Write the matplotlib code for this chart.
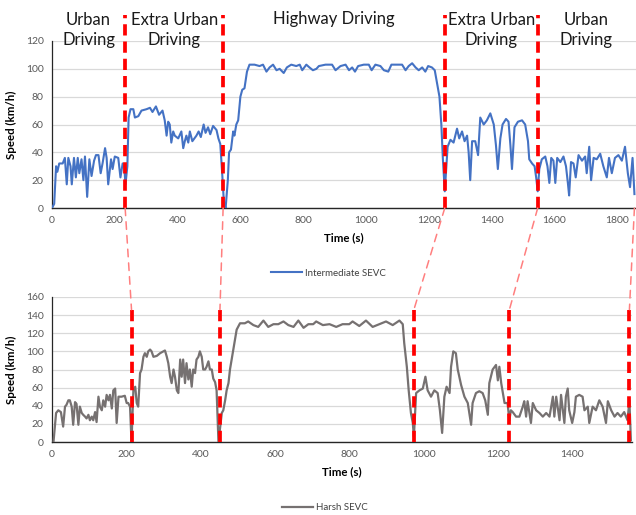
import matplotlib
matplotlib.use("Agg")
import matplotlib.pyplot as plt
from matplotlib.patches import ConnectionPatch

plt.rcParams['font.family'] = ['Lato', 'DejaVu Sans']

# ---- Intermediate SEVC drive cycle (time s, speed km/h) ----
inter_t = [0, 7, 13, 17, 23, 34, 41, 47, 52, 59, 63, 70, 76, 82, 87, 94, 100, 105, 112, 119,
           126, 134, 140, 148, 155, 161, 169, 174, 179, 188, 193, 200, 211, 218, 225, 230, 234, 240,
           244, 250, 259, 264, 275, 285, 301, 312, 320, 331, 341, 352, 359, 365, 370, 375, 380, 386,
           391, 402, 412, 418, 423, 428, 434, 439, 447, 460, 467, 474, 483, 489, 497, 504, 513, 524,
           530, 536, 542, 548, 553, 560, 564, 570, 577, 581, 587, 593, 600, 606, 613, 621, 629, 645,
           661, 672, 683, 693, 704, 715, 725, 738, 748, 762, 778, 789, 797, 810, 820, 831, 842, 850,
           871, 892, 903, 919, 935, 946, 956, 965, 975, 993, 1009, 1018, 1030, 1046, 1057, 1071, 1081,
           1099, 1115, 1126, 1136, 1147, 1158, 1168, 1179, 1189, 1198, 1210, 1219, 1226, 1234, 1240,
           1245, 1251, 1256, 1260, 1269, 1279, 1290, 1297, 1306, 1314, 1322, 1327, 1332, 1338, 1348,
           1357, 1364, 1375, 1385, 1396, 1407, 1414, 1420, 1428, 1435, 1446, 1454, 1460, 1465, 1473,
           1484, 1497, 1507, 1516, 1520, 1529, 1537, 1542, 1547, 1552, 1560, 1571, 1578, 1584, 1590,
           1597, 1603, 1609, 1619, 1629, 1637, 1643, 1647, 1653, 1661, 1668, 1677, 1688, 1698, 1703,
           1711, 1717, 1725, 1735, 1746, 1756, 1767, 1774, 1783, 1793, 1804, 1815, 1825, 1834, 1841,
           1849, 1855]
inter_v = [0, 3, 30, 26, 32, 32, 36, 17, 36, 30, 17, 36, 22, 36, 25, 35, 20, 37, 8, 35,
           23, 34, 38, 38, 25, 32, 43, 36, 17, 35, 28, 37, 36, 22, 32, 30, 17, 30,
           65, 71, 71, 65, 66, 70, 71, 72, 69, 73, 67, 70, 63, 52, 62, 60, 47, 55,
           52, 50, 55, 43, 48, 52, 47, 55, 48, 52, 55, 51, 60, 54, 58, 53, 59, 56,
           50, 46, 25, 2, 0, 20, 40, 42, 55, 52, 60, 63, 80, 85, 86, 98, 103, 103,
           102, 103, 98, 101, 103, 99, 100, 97, 101, 103, 102, 103, 99, 103, 101, 99, 100, 102,
           103, 103, 99, 102, 103, 99, 101, 98, 102, 103, 103, 99, 103, 102, 99, 98, 103,
           103, 103, 99, 102, 104, 101, 99, 101, 98, 102, 101, 99, 90, 80, 60,
           35, 12, 30, 44, 49, 47, 57, 50, 55, 48, 52, 40, 20, 48, 48,
           38, 65, 60, 63, 68, 60, 45, 28, 50, 60, 64, 62, 45, 28, 58,
           62, 63, 60, 48, 35, 32, 30, 22, 12, 28, 35, 37, 30, 18, 36,
           34, 18, 36, 33, 37, 30, 18, 9, 33, 32, 22, 38, 34, 37, 25,
           44, 20, 36, 35, 39, 30, 22, 36, 25, 36, 38, 34, 44, 25, 15,
           36, 10]

# ---- Harsh SEVC drive cycle (time s, speed km/h) ----
harsh_t = [4, 11, 17, 24, 30, 35, 39, 44, 48, 53, 57, 62, 66, 71, 75, 80, 84, 89, 93, 98,
           102, 107, 111, 116, 120, 125, 129, 134, 138, 143, 147, 152, 156, 161, 165, 170, 174, 179,
           187, 196, 201, 205, 210, 214, 219, 224, 228, 232, 237, 241, 246, 250, 255, 259, 264, 268,
           273, 282, 291, 300, 304, 309, 313, 318, 322, 327, 331, 336, 340, 345, 349, 353, 358, 362,
           367, 371, 376, 380, 385, 389, 394, 398, 403, 407, 412, 416, 421, 425, 430, 434, 439, 443,
           448, 457, 461, 466, 470, 475, 479, 488, 497, 506, 519, 528, 542, 555, 569, 582, 596, 609,
           623, 636, 650, 663, 677, 690, 703, 711, 729, 747, 765, 782, 800, 809, 827, 845, 863, 881,
           899, 917, 935, 944, 948, 955, 960, 966, 971, 974, 980, 989, 998, 1005, 1011, 1020, 1029,
           1038, 1044, 1050, 1056, 1062, 1070, 1074, 1080, 1087, 1092, 1101, 1110, 1119, 1128, 1132,
           1141, 1150, 1159, 1166, 1173, 1177, 1186, 1195, 1200, 1204, 1209, 1218, 1226, 1231, 1235,
           1240, 1249, 1258, 1267, 1271, 1276, 1280, 1289, 1294, 1303, 1312, 1321, 1330, 1339, 1348,
           1352, 1357, 1366, 1370, 1379, 1383, 1388, 1392, 1400, 1406, 1410, 1419, 1428, 1433, 1442,
           1446, 1455, 1464, 1473, 1482, 1491, 1496, 1505, 1514, 1522, 1531, 1540, 1549, 1554, 1558]
harsh_v = [0, 32, 35, 33, 17, 39, 41, 46, 46, 39, 19, 44, 42, 19, 39, 32, 30, 28, 26, 30,
           24, 28, 24, 33, 22, 50, 39, 35, 46, 39, 52, 46, 52, 37, 57, 59, 21, 50,
           50, 51, 43, 43, 39, 0, 57, 61, 43, 39, 76, 80, 94, 98, 94, 100, 102, 100,
           94, 95, 98, 100, 101, 94, 87, 72, 65, 80, 72, 57, 54, 91, 72, 91, 65, 87,
           69, 80, 61, 80, 76, 91, 94, 100, 94, 80, 80, 83, 89, 80, 80, 70, 66, 57,
           0, 32, 35, 46, 57, 65, 80, 102, 124, 131, 131, 133, 129, 127, 134, 127, 130, 130,
           133, 129, 127, 134, 126, 130, 130, 133, 129, 130, 127, 130, 130, 133, 128, 134, 127, 130,
           133, 129, 134, 130, 109, 83, 57, 32, 21, 6, 54, 57, 59, 72, 57, 50, 57,
           54, 35, 10, 50, 61, 54, 83, 100, 98, 80, 63, 50, 43, 19, 43,
           54, 56, 54, 46, 30, 65, 80, 85, 68, 83, 65, 43, 43, 24, 35,
           33, 28, 28, 39, 45, 28, 45, 21, 43, 35, 32, 28, 32, 28, 50,
           28, 50, 24, 52, 21, 50, 59, 35, 21, 33, 50, 52, 50, 35, 39,
           21, 39, 35, 46, 39, 21, 45, 35, 28, 32, 28, 33, 24, 46, 2]

# ---- driving-phase boundaries (s) ----
inter_bounds = [233, 545, 1251, 1547, 1855]
harsh_bounds = [214, 452, 974, 1231, 1554]
phase_labels = ["Urban\nDriving", "Extra Urban\nDriving", "Highway Driving",
                "Extra Urban\nDriving", "Urban\nDriving"]

inter_ticks = [0, 200, 400, 600, 800, 1000, 1200, 1400, 1600, 1800]
inter_yticks = [0, 20, 40, 60, 80, 100, 120]
harsh_ticks = [0, 200, 400, 600, 800, 1000, 1200, 1400]
harsh_yticks = [0, 20, 40, 60, 80, 100, 120, 140, 160]

W, H = 636, 515
fig = plt.figure(figsize=(W / 100, H / 100), dpi=100)


def px_axes(left, top, right, bottom):
    return fig.add_axes([left / W, 1 - bottom / H, (right - left) / W, (bottom - top) / H])


ax1 = px_axes(52, 41, 636, 208)
ax2 = px_axes(52, 297, 632, 442)

BLUE = "#4472C4"
GREY = "#767171"
RED = "#FF0000"
TICK = "#595959"

for ax in (ax1, ax2):
    ax.grid(axis='y', color='#D9D9D9', lw=0.9)
    ax.set_axisbelow(True)
    for s in ('top', 'right'):
        ax.spines[s].set_visible(False)
    ax.spines['left'].set_color('#262626')
    ax.spines['bottom'].set_color('#262626')
    ax.spines['left'].set_linewidth(0.9)
    ax.spines['bottom'].set_linewidth(1.0)
    ax.tick_params(length=0, labelsize=7.5, labelcolor=TICK, pad=6)
    ax.set_ylabel("Speed (km/h)", fontsize=8.3, fontweight='bold', labelpad=6)
    ax.set_xlabel("Time (s)", fontsize=8.3, fontweight='bold', labelpad=5)

ax1.plot(inter_t, inter_v, color=BLUE, lw=1.5, label="Intermediate SEVC", zorder=3)
ax1.set_xlim(0, 1860)
ax1.set_ylim(0, 120)
ax1.set_xticks(inter_ticks)
ax1.set_yticks(inter_yticks)

ax2.plot(harsh_t, harsh_v, color=GREY, lw=1.6, label="Harsh SEVC", zorder=3)
ax2.set_xlim(0, 1561)
ax2.set_ylim(0, 160)
ax2.set_xticks(harsh_ticks)
ax2.set_yticks(harsh_yticks)

dash = (0, (3, 1.6))
# phase separators on the top chart (extend up through the phase titles)
for b in inter_bounds[:-1]:
    ax1.axvline(b, ymin=0, ymax=(208 - 15) / (208 - 41), color=RED, lw=2.7,
                linestyle=dash, clip_on=False, zorder=4)
# phase separators on the bottom chart
for b in harsh_bounds:
    ax2.axvline(b, ymin=0, ymax=146 / 160, color=RED, lw=2.7,
                linestyle=dash, clip_on=False, zorder=4)

# connectors between matching phase boundaries
for bt, bh in zip(inter_bounds, harsh_bounds):
    con = ConnectionPatch(xyA=(bt, 0), coordsA=ax1.transData,
                          xyB=(bh, 146), coordsB=ax2.transData,
                          color="#FF7F7F", lw=1.1, linestyle=(0, (5, 4)))
    fig.add_artist(con)

# phase titles
edges = [0] + inter_bounds
for i, lab in enumerate(phase_labels):
    xm = (edges[i] + edges[i + 1]) / 2
    y = 1.132 if "\n" not in lab else 1.066
    ax1.text(xm, y, lab, transform=ax1.get_xaxis_transform(), ha='center', va='center',
             fontsize=12, color='#1a1a1a', linespacing=1.25)

fig.legend(handles=ax1.get_lines()[:1], loc='center', bbox_to_anchor=(328 / W, 1 - 273 / H),
           frameon=False, fontsize=7, handlelength=3.2, handletextpad=0.3, labelcolor='#404040')
fig.legend(handles=ax2.get_lines()[:1], loc='center', bbox_to_anchor=(325 / W, 1 - 508 / H),
           frameon=False, fontsize=7, handlelength=3.2, handletextpad=0.3, labelcolor='#404040')

fig.savefig("out.png", dpi=100, facecolor='white')
